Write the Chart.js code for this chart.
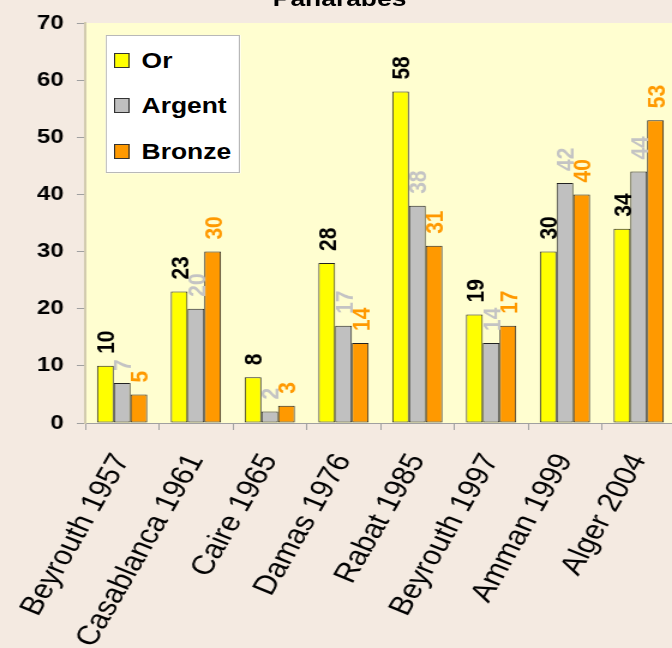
<!DOCTYPE html>
<html><head><meta charset="utf-8">
<script src="https://cdn.jsdelivr.net/npm/chart.js@4.4.1/dist/chart.umd.min.js"></script>
<style>
html,body{margin:0;padding:0;background:#f4eae1;overflow:hidden;width:672px;height:648px;}
#wrap{position:absolute;left:0;top:0;width:563px;height:648px;transform-origin:0 0;transform:scaleX(1.2);}
canvas{position:absolute;left:0;top:0;}
#title{position:absolute;left:0;width:566px;top:-12px;text-align:center;font:bold 22px "Liberation Sans",Arial,sans-serif;line-height:22px;color:#000;}
#legend{position:absolute;left:88px;top:35px;width:112px;height:138px;background:#fff;border:1px solid #b8b8b8;box-sizing:border-box;}
.item{position:absolute;left:0;height:24px;font:bold 22px "Liberation Sans",Arial,sans-serif;line-height:24px;color:#000;}
.sw{position:absolute;left:6px;top:4px;width:13px;height:15px;box-sizing:border-box;border:1px solid #333;}
.lt{position:absolute;left:29px;top:0;white-space:nowrap;}
</style></head>
<body>
<div id="wrap">
<canvas id="c" width="563" height="648"></canvas>
<div id="title">Panarabes</div>
<div id="legend"></div>
</div>
<script>
const categories = ['Beyrouth 1957','Casablanca 1961','Caire 1965','Damas 1976','Rabat 1985','Beyrouth 1997','Amman 1999','Alger 2004'];
const seriesNames = ['Or','Argent','Bronze'];
const orValues = [10,23,8,28,58,19,30,34];
const argentValues = [7,20,2,17,38,14,42,44];
const bronzeValues = [5,30,3,14,31,17,40,53];
const yMin = 0, yMax = 70, yStep = 10;

const barColors = ['#ffff00','#c0c0c0','#ff9900'];
const labelColors = ['#000000','#c4c4c4','#ff9900'];
const FONT = '"Liberation Sans", Arial, sans-serif';

const plotBg = {
  id:'plotBg',
  beforeDraw(chart){
    const a = chart.chartArea, ctx = chart.ctx;
    ctx.save();
    ctx.fillStyle = '#fffed0';
    ctx.fillRect(a.left, a.top, a.right - a.left, a.bottom - a.top);
    ctx.restore();
  }
};

const valueLabels = {
  id:'valueLabels',
  afterDatasetsDraw(chart){
    const ctx = chart.ctx;
    const size = 21;
    chart.data.datasets.forEach((ds,i)=>{
      const meta = chart.getDatasetMeta(i);
      meta.data.forEach((bar,j)=>{
        ctx.save();
        ctx.translate(bar.x, bar.y - 12);
        ctx.rotate(-Math.PI/2);
        ctx.font = 'bold ' + size + 'px ' + FONT;
        ctx.fillStyle = labelColors[i];
        ctx.textAlign = 'left';
        ctx.textBaseline = 'alphabetic';
        ctx.fillText(String(ds.data[j]), 0, size*0.36);
        ctx.restore();
      });
    });
  }
};

const seriesValues = [orValues, argentValues, bronzeValues];
const chart = new Chart(document.getElementById('c'), {
  type:'bar',
  data:{
    labels: categories,
    datasets: seriesNames.map((n,i)=>({
      label:n, data:seriesValues[i], backgroundColor:barColors[i],
      borderColor:'#222', borderWidth:1, borderSkipped:false,
      categoryPercentage:0.68, barPercentage:1.0
    }))
  },
  options:{
    responsive:false, animation:false, devicePixelRatio:1,
    layout:{padding:{left:0,right:0,top:20,bottom:0}},
    plugins:{legend:{display:false}, title:{display:false}, tooltip:{enabled:false}},
    scales:{
      x:{
        grid:{offset:true, drawOnChartArea:false, tickLength:7, color:'#a0a0a0'},
        border:{color:'#a0a0a0', width:1},
        ticks:{maxRotation:64, minRotation:64, padding:19, autoSkip:false, color:'#000', font:{family:FONT, size:27}},
        afterFit(s){ s.height = 225; s.paddingLeft = 0; s.paddingRight = 0; }
      },
      y:{
        min:yMin, max:yMax,
        grid:{drawOnChartArea:false, tickLength:7, color:'#a0a0a0'},
        border:{color:'#d2cbae', width:2},
        ticks:{stepSize:yStep, padding:11, color:'#000', font:{family:FONT, size:20, weight:'bold'}},
        afterFit(s){ s.width = 71; }
      }
    }
  },
  plugins:[plotBg, valueLabels]
});

const leg = document.getElementById('legend');
const rowCenters = [26, 71, 117];
seriesNames.forEach((n,i)=>{
  const it = document.createElement('div');
  it.className='item';
  it.style.top = (rowCenters[i]-12-1)+'px';
  const sw = document.createElement('div');
  sw.className='sw'; sw.style.background = barColors[i];
  const t = document.createElement('span');
  t.className='lt'; t.textContent = n;
  it.appendChild(sw); it.appendChild(t);
  leg.appendChild(it);
});
</script>
</body></html>
